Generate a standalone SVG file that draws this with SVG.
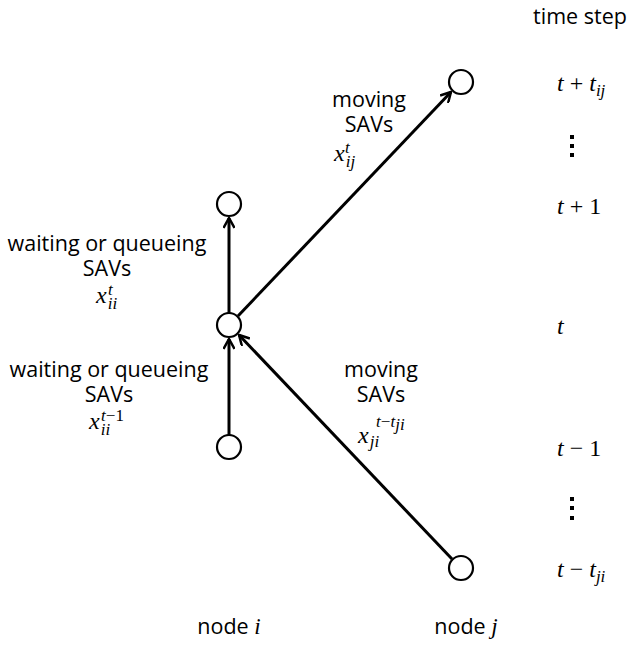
<svg xmlns="http://www.w3.org/2000/svg" width="630" height="646" viewBox="0 0 630 646">
<defs>
<marker id="arr" viewBox="0 0 12 12" refX="11" refY="6" markerWidth="12" markerHeight="12" markerUnits="userSpaceOnUse" orient="auto">
<path d="M1,0.5 L11,6 L1,11.5" fill="none" stroke="#000" stroke-width="2.5"/>
</marker>
<style>
.n{fill:#fff;stroke:#000;stroke-width:2.2}
.e{stroke:#000;stroke-width:3;fill:none;marker-end:url(#arr)}
.t{font-family:"Open Sans","Noto Sans","Liberation Sans",sans-serif;font-size:21.5px;fill:#000;text-anchor:middle}
.m{font-family:"Liberation Serif","DejaVu Serif",serif;font-style:italic;font-size:24px;fill:#000}
.u{font-family:"Liberation Serif","DejaVu Serif",serif;font-style:normal;font-size:24px;fill:#000}
.s{font-size:17px}
</style>
</defs>
<rect width="630" height="646" fill="#fff"/>
<g id="connectors">
<line class="e" x1="229" y1="435" x2="229" y2="339"/>
<line class="e" x1="229" y1="313" x2="229" y2="218"/>
<line class="e" x1="238" y1="316" x2="451" y2="92"/>
<line class="e" x1="452" y1="559" x2="239" y2="335"/>
</g>
<g id="node-i-t1"><circle class="n" cx="229" cy="204" r="12"/></g>
<g id="node-i-t"><circle class="n" cx="229" cy="325" r="12"/></g>
<g id="node-i-tm1"><circle class="n" cx="229" cy="447" r="12"/></g>
<g id="node-j-top"><circle class="n" cx="461" cy="82" r="12"/></g>
<g id="node-j-bottom"><circle class="n" cx="461" cy="568" r="12"/></g>
<g id="labels">
<text class="t" x="107" y="251">waiting or queueing</text>
<text class="t" x="107" y="276">SAVs</text>
<text class="m" x="96" y="303">x<tspan class="s" dx="1" dy="6">ii</tspan><tspan class="s" dx="-9" dy="-14">t</tspan></text>
<text class="t" x="109" y="377">waiting or queueing</text>
<text class="t" x="109" y="402">SAVs</text>
<text class="m" x="89" y="429">x<tspan class="s" dx="1" dy="6">ii</tspan><tspan class="s" dx="-9" dy="-14">t</tspan><tspan class="s" font-style="normal">−1</tspan></text>
<text class="t" x="369" y="107">moving</text>
<text class="t" x="369" y="132">SAVs</text>
<text class="m" x="334" y="161">x<tspan class="s" dx="1" dy="6">ij</tspan><tspan class="s" dx="-10" dy="-14">t</tspan></text>
<text class="t" x="381" y="377">moving</text>
<text class="t" x="381" y="402">SAVs</text>
<text class="m" x="358" y="443">x<tspan class="s" dx="1" dy="4">ji</tspan><tspan class="s" dx="-3" dy="-20">t</tspan><tspan class="s" font-style="normal">−</tspan><tspan class="s">t</tspan><tspan class="s" dy="3">ji</tspan></text>
</g>
<g id="timesteps">
<text class="t" x="580" y="24">time step</text>
<text class="m" x="557" y="91">t<tspan class="u"> + </tspan>t<tspan class="s" dy="5">ij</tspan></text>
<rect x="570" y="135" width="4" height="4"/>
<rect x="570" y="144" width="4" height="4"/>
<rect x="570" y="153" width="4" height="4"/>
<text class="m" x="557" y="214">t<tspan class="u"> + 1</tspan></text>
<text class="m" x="557" y="334">t</text>
<text class="m" x="557" y="456">t<tspan class="u"> − 1</tspan></text>
<rect x="570" y="497" width="4" height="4"/>
<rect x="570" y="506" width="4" height="4"/>
<rect x="570" y="516" width="4" height="4"/>
<text class="m" x="557" y="577">t<tspan class="u"> − </tspan>t<tspan class="s" dy="5">ji</tspan></text>
</g>
<g id="nodelabels">
<text class="t" x="229" y="634">node <tspan font-family="Liberation Serif,serif" font-style="italic" font-size="23">i</tspan></text>
<text class="t" x="466" y="634">node <tspan font-family="Liberation Serif,serif" font-style="italic" font-size="23">j</tspan></text>
</g>
</svg>
